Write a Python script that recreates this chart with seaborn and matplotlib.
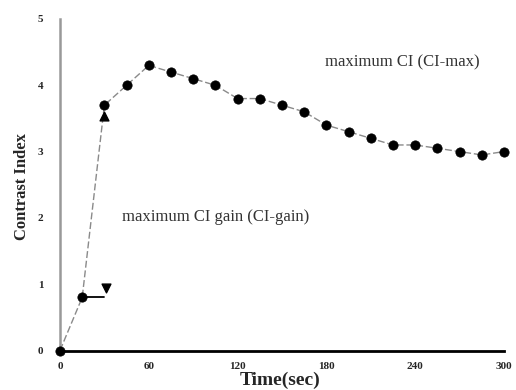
import matplotlib
matplotlib.use("Agg")
import matplotlib.pyplot as plt
import seaborn as sns
import pandas as pd
from matplotlib.ticker import MultipleLocator

time_sec = [0, 15, 30, 45, 60, 75, 90, 105, 120, 135, 150, 165, 180, 195,
            210, 225, 240, 255, 270, 285, 300]
contrast_index = [0.0, 0.8, 3.7, 4.0, 4.3, 4.2, 4.1, 4.0, 3.8, 3.8, 3.7, 3.6,
                  3.4, 3.3, 3.2, 3.1, 3.1, 3.05, 3.0, 2.95, 3.0]
x_ticks = [0, 60, 120, 180, 240, 300]
y_ticks = [0, 1, 2, 3, 4, 5]
label_max = "maximum CI (CI-max)"
label_gain = "maximum CI gain (CI-gain)"

df = pd.DataFrame({"t": time_sec, "ci": contrast_index})

sns.set_style("white")
serif = ["Liberation Serif", "DejaVu Serif"]

fig = plt.figure(figsize=(5.16, 3.9), dpi=100)
ax = fig.add_axes([60 / 516, 39.5 / 390, 444 / 516, 331.5 / 390])

sns.lineplot(data=df, x="t", y="ci", ax=ax, color="#8a8a8a", lw=1.0,
             linestyle=(0, (5, 2)), zorder=2)
sns.scatterplot(data=df, x="t", y="ci", ax=ax, color="black", s=45,
                edgecolor="black", linewidth=0.5, zorder=4, clip_on=False)

# annotations: gain bracket
ax.plot([time_sec[1], time_sec[2]], [contrast_index[1], contrast_index[1]],
        color="black", lw=1.3, zorder=3)
ax.scatter([time_sec[2] + 1], [contrast_index[1] + 0.14], marker="v",
           color="black", s=40, zorder=5)
ax.scatter([time_sec[2]], [contrast_index[2] - 0.17], marker="^",
           color="black", s=40, zorder=5)

ax.text(231, 4.34, label_max, ha="center", va="center", fontsize=12,
        family=serif, color="#333333")
ax.text(42, 2.02, label_gain, ha="left", va="center", fontsize=12,
        family=serif, color="#333333")

ax.set_xlim(0, 300)
ax.set_ylim(0, 5)
ax.set_xticks(x_ticks)
ax.set_yticks(y_ticks)
ax.xaxis.set_minor_locator(MultipleLocator(30))
ax.yaxis.set_minor_locator(MultipleLocator(0.5))
ax.tick_params(axis="both", which="both", direction="in", length=4,
               width=0.8, color="#777777", labelsize=8)
ax.tick_params(axis="y", which="both", pad=12)
ax.tick_params(axis="x", which="both", pad=8)
for lab in ax.get_xticklabels() + ax.get_yticklabels():
    lab.set_family(serif)
    lab.set_fontweight("bold")

for s in ["top", "right"]:
    ax.spines[s].set_visible(False)
ax.spines["left"].set_color("#999999")
ax.spines["left"].set_linewidth(1.8)
ax.spines["bottom"].set_color("black")
ax.spines["bottom"].set_linewidth(2.0)

ax.set_xlabel("Time(sec)", family=serif, fontweight="bold", fontsize=14)
ax.xaxis.set_label_coords((280 - 60) / 444, -(380 - 350.5) / 331.5)
ax.xaxis.label.set_va("center")
ax.set_ylabel("Contrast Index", family=serif, fontweight="bold", fontsize=12)
ax.yaxis.set_label_coords(-(60 - 22) / 444, (350.5 - 187) / 331.5)
ax.yaxis.label.set_va("center")

fig.savefig("out.png", dpi=100)
